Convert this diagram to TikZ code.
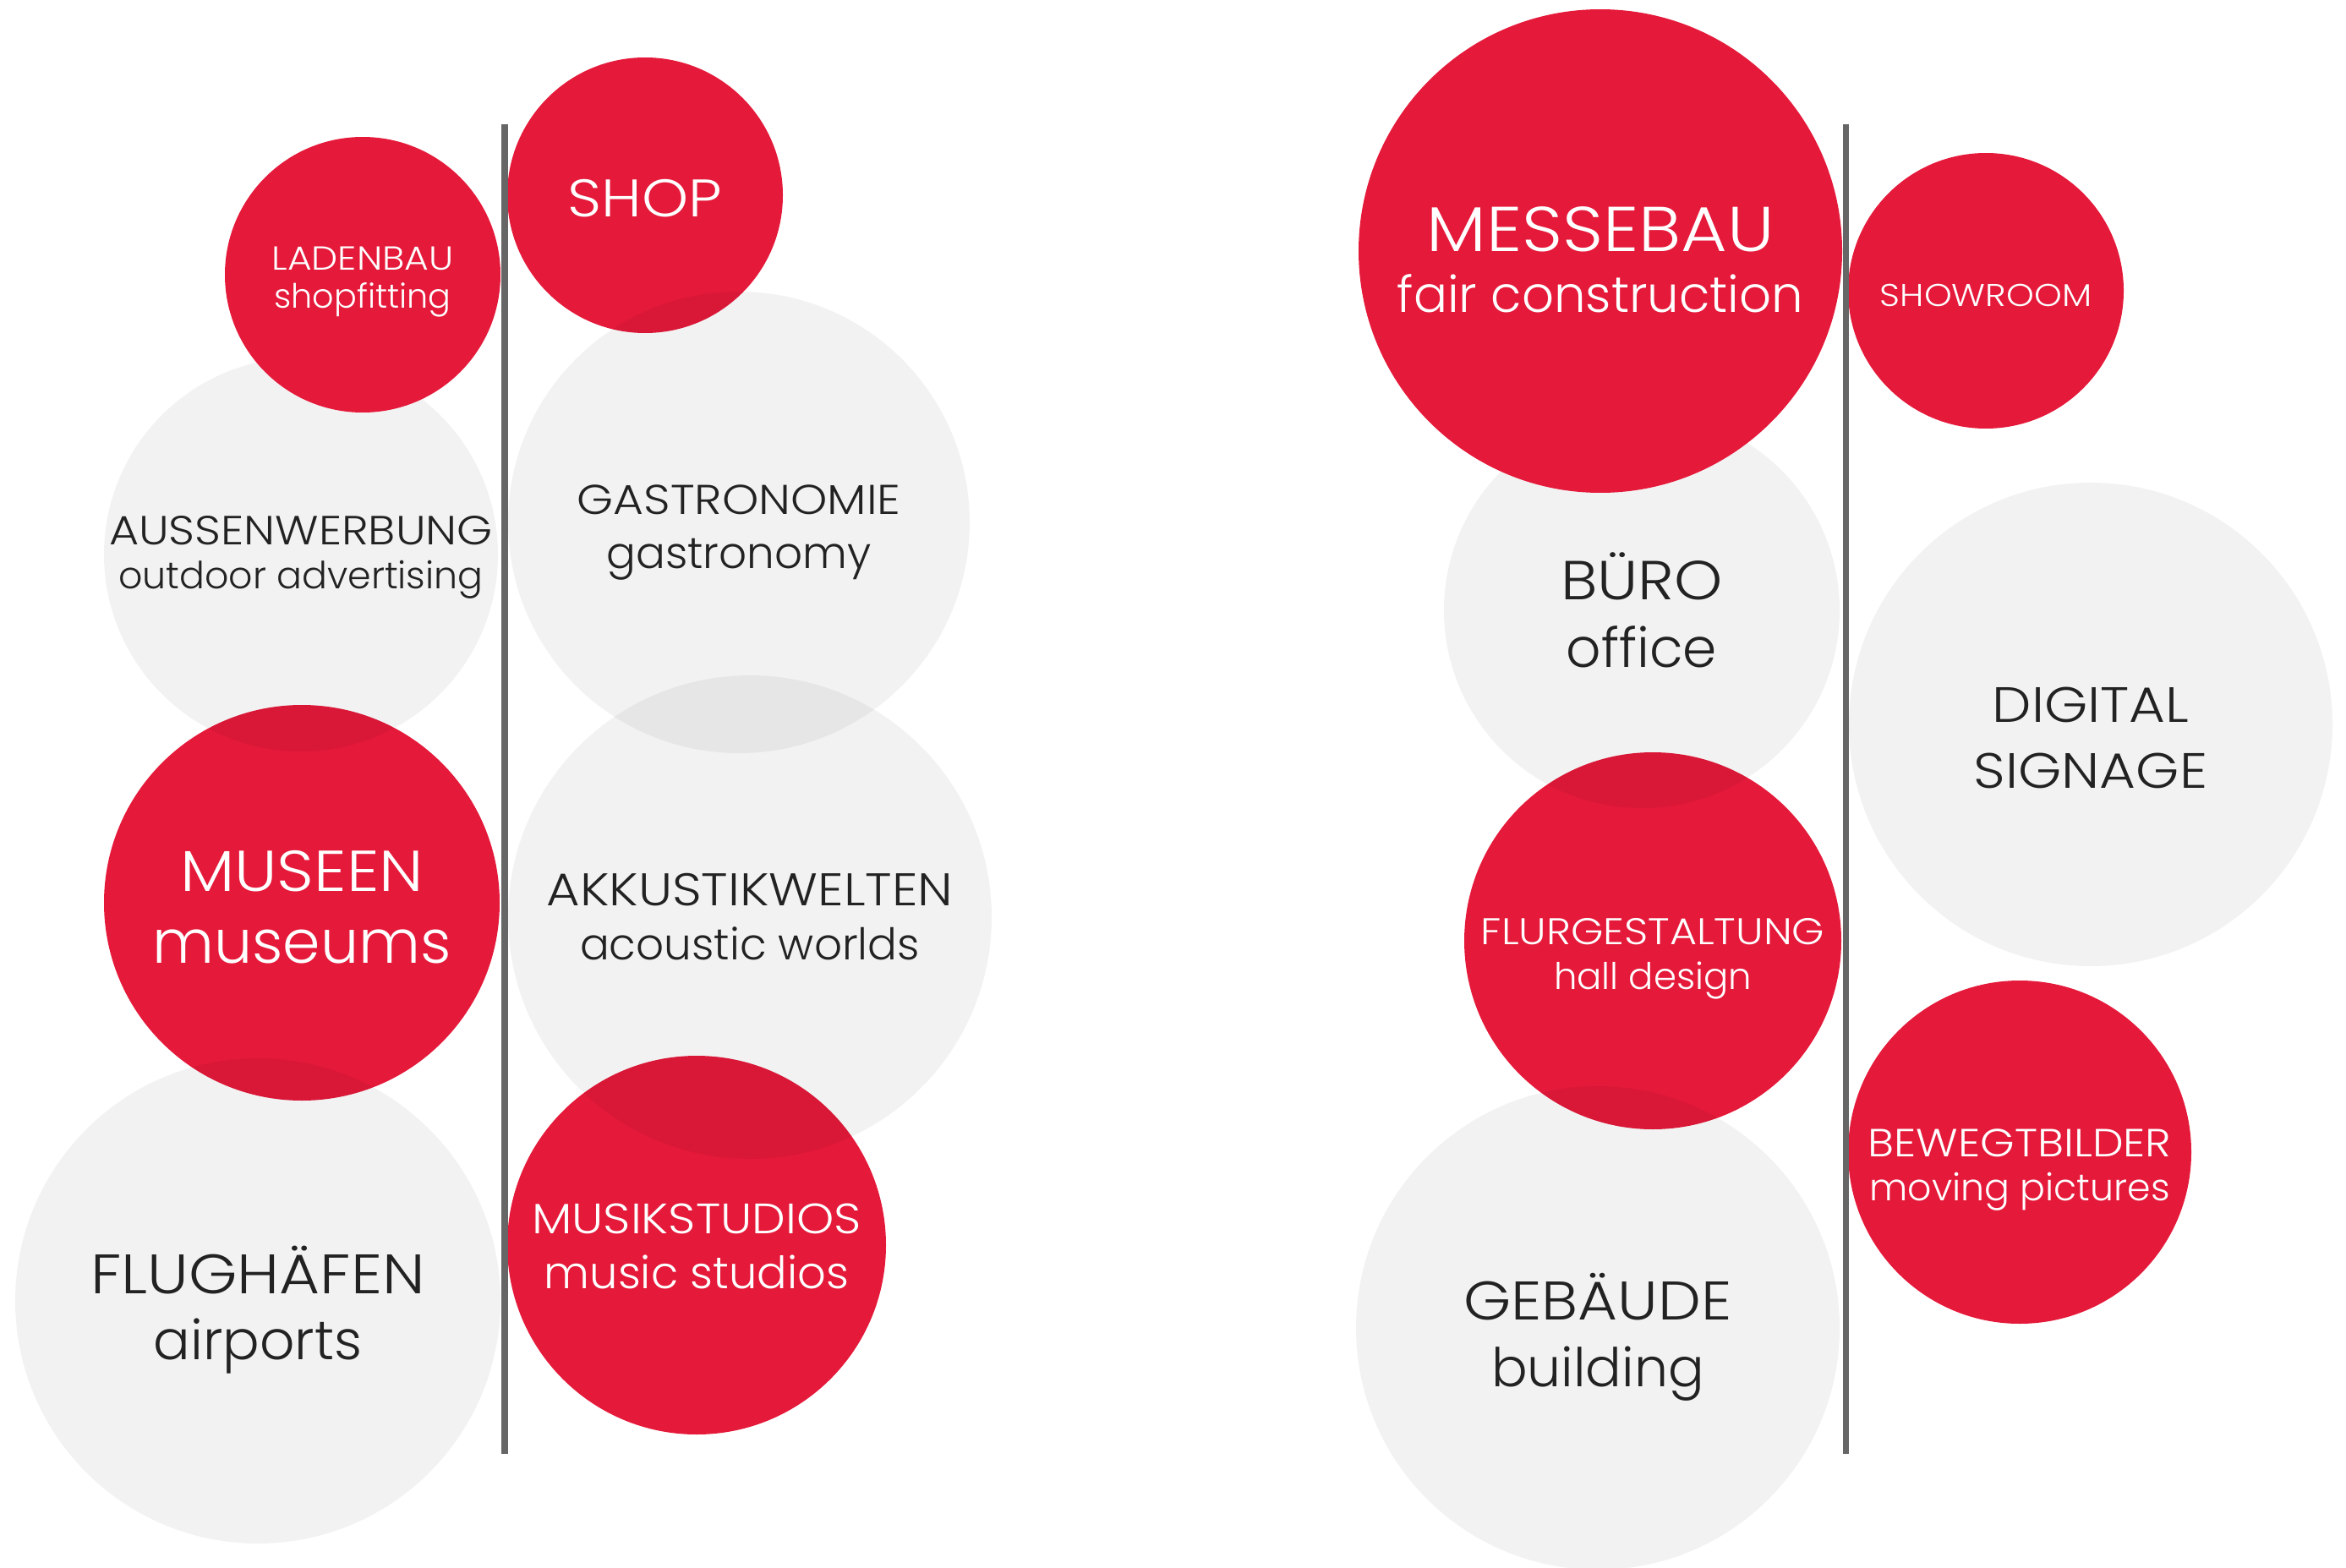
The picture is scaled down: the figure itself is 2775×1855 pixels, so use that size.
\documentclass[tikz,border=0pt]{standalone}
\usepackage{fontspec}
\setmainfont{Poppins}[UprightFont=* Light]
\newfontfamily\capsfont{Poppins}[UprightFont=* Light, FakeStretch=1.12]
\usetikzlibrary{positioning}
\definecolor{ballred}{HTML}{E5193A}
\definecolor{balltext}{HTML}{222222}
\definecolor{barline}{HTML}{666666}
\tikzset{>=latex,
  redball/.style={circle, fill=ballred, inner sep=0pt, minimum size=#1*0.2mm},
  grayball/.style={circle, fill=black, fill opacity=0.05, inner sep=0pt, minimum size=#1*0.2mm},
  redtext/.style={text=white, align=center, inner sep=0pt},
  graytext/.style={text=balltext, align=center, inner sep=0pt}}

\begin{document}
\begin{tikzpicture}[x=0.1mm,y=-0.1mm]
  \useasboundingbox (0,0) rectangle (2775,1855);
  % left group
  \node[redball=163] (nshop) at (763,231) {};
  \node[redball=234] (nmuseen) at (357,1068) {};
  \node[redball=224] (nmusik) at (824,1473) {};
  \node[grayball=233] (naussen) at (356,656) {};
  \node[grayball=273] (ngastro) at (874,618) {};
  \node[grayball=286] (nakku) at (887,1085) {};
  \node[grayball=287] (nflug) at (305,1539) {};
  \node[redball=163] (nladen) at (429,325) {};
  \node[redtext, font={\capsfont\fontsize{17.8}{22}\selectfont}] (tshop) at ([yshift=-1pt]nshop) {SHOP};
  \node[redtext, font={\fontsize{11.3}{12.8}\selectfont}] (tladen) at ([yshift=-2.5pt]nladen) {{\capsfont\fontsize{11.2}{12.8}\selectfont LADENBAU}\\shopfitting};
  \node[graytext, font={\fontsize{12.6}{15}\selectfont}] (taussen) at ([yshift=-1pt]naussen) {{\capsfont\fontsize{13.7}{15}\selectfont AUSSENWERBUNG}\\outdoor advertising};
  \node[graytext, font={\fontsize{14.7}{18.2}\selectfont}] (tgastro) at ([yshift=-3.5pt]ngastro) {{\capsfont\fontsize{14}{18.2}\selectfont GASTRONOMIE}\\gastronomy};
  \node[redtext, font={\fontsize{20.3}{24}\selectfont}] (tmuseen) at ([yshift=-1.5pt]nmuseen) {{\capsfont\fontsize{19.4}{24}\selectfont MUSEEN}\\museums};
  \node[graytext, font={\fontsize{14.7}{18.2}\selectfont}] (takku) at (nakku) {{\capsfont\fontsize{15.4}{18.2}\selectfont AKKUSTIKWELTEN}\\acoustic worlds};
  \node[graytext, font={\fontsize{18.4}{22}\selectfont}] (tflug) at ([yshift=-3pt]nflug) {{\capsfont\fontsize{18.7}{22}\selectfont FLUGHÄFEN}\\airports};
  \node[redtext, font={\fontsize{15}{18.5}\selectfont}] (tmusik) at ([yshift=-0.5pt]nmusik) {{\capsfont\fontsize{14.3}{18.5}\selectfont MUSIKSTUDIOS}\\music studios};
  % right group
  \node[redball=223] (nflur) at (1955,1113) {};
  \node[grayball=234] (nbuero) at (1942,722) {};
  \node[grayball=286] (ngebaeude) at (1890,1571) {};
  \node[redball=286] (nmesse) at (1893,297) {};
  \node[redball=163] (nshowroom) at (2349,344) {};
  \node[grayball=286] (ndigital) at (2473,857) {};
  \node[redball=203] (nbewegt) at (2389,1363) {};
  \node[redtext, font={\fontsize{16.9}{20.5}\selectfont}] (tmesse) at ([yshift=-3pt]nmesse) {{\capsfont\fontsize{21.3}{20.5}\selectfont MESSEBAU}\\fair construction};
  \node[redtext, font={\capsfont\fontsize{10.6}{12}\selectfont}] (tshowroom) at ([yshift=-1.5pt]nshowroom) {SHOWROOM};
  \node[graytext, font={\fontsize{18.4}{22.7}\selectfont}] (tbuero) at (nbuero) {{\capsfont\fontsize{18.5}{22.7}\selectfont BÜRO}\\office};
  \node[graytext, font={\capsfont\fontsize{16.7}{22}\selectfont}] (tdigital) at ([yshift=-4.5pt]ndigital) {DIGITAL\\SIGNAGE};
  \node[redtext, font={\fontsize{12.35}{15}\selectfont}] (tflur) at ([yshift=-6pt]nflur) {{\capsfont\fontsize{12.5}{15}\selectfont FLURGESTALTUNG}\\hall design};
  \node[redtext, font={\fontsize{12.6}{15}\selectfont}] (tbewegt) at ([yshift=-6pt]nbewegt) {{\capsfont\fontsize{13.2}{15}\selectfont BEWEGTBILDER}\\moving pictures};
  \node[graytext, font={\fontsize{18}{22.5}\selectfont}] (tgebaeude) at ([yshift=-3pt]ngebaeude) {{\capsfont\fontsize{18.3}{22.5}\selectfont GEBÄUDE}\\building};
  % dividers
  \coordinate (aux1) at (597,147);
  \coordinate (aux2) at (597,1720);
  \coordinate (aux3) at (2183,147);
  \coordinate (aux4) at (2183,1720);
  \draw[barline, line width=2pt] (aux1) -- (aux2);
  \draw[barline, line width=2pt] (aux3) -- (aux4);
\end{tikzpicture}
\end{document}
